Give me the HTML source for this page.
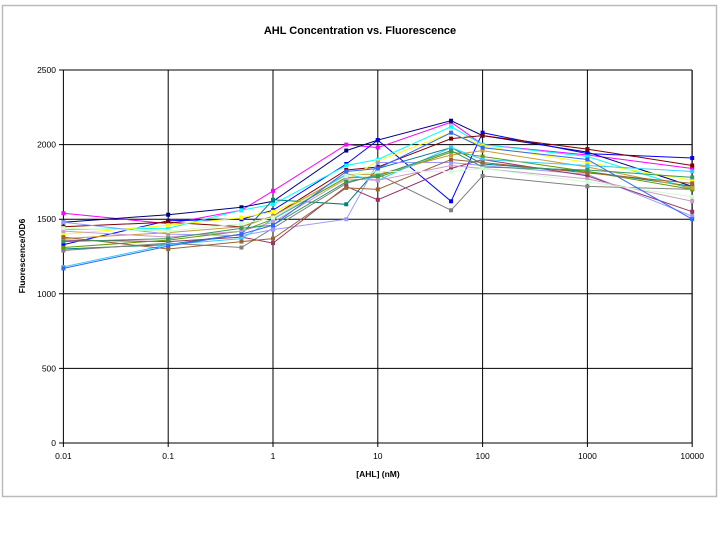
<!DOCTYPE html>
<html><head><meta charset="utf-8"><style>
body{margin:0;background:#fff;width:720px;height:540px;overflow:hidden;font-family:"Liberation Sans",Arial,sans-serif}
</style></head><body>
<svg width="720" height="540" xmlns="http://www.w3.org/2000/svg" font-family="Liberation Sans, Arial, sans-serif">
<rect x="2.5" y="5.5" width="714" height="491" fill="#fff" stroke="#bbb" stroke-width="1.5"/>
<text x="360" y="34" text-anchor="middle" font-size="11" font-weight="bold">AHL Concentration vs. Fluorescence</text>
<g id="grid" stroke="#000" stroke-width="1"></g>
<g id="series"></g>
<g font-size="8.5" fill="#000" id="labels"></g>
<text x="378" y="477" text-anchor="middle" font-size="8.5" font-weight="bold">[AHL] (nM)</text>
<text transform="translate(25,256) rotate(-90)" text-anchor="middle" font-size="8.5" font-weight="bold">Fluorescence/OD6</text>
</svg>
<script>
const ns="http://www.w3.org/2000/svg";
const X=v=>273+104.8*Math.log10(v), Y=v=>443-v*0.1492;
const g=document.getElementById('grid'),L=document.getElementById('labels'),S=document.getElementById('series');
function el(p,t,a){const e=document.createElementNS(ns,t);for(const k in a)e.setAttribute(k,a[k]);p.appendChild(e);return e;}
[0.01,0.1,1,10,100,1000,10000].forEach(v=>{const x=X(v);el(g,'line',{x1:x,x2:x,y1:70,y2:447});const t=el(L,'text',{x:x,y:459,'text-anchor':'middle'});t.textContent=v;});
[0,500,1000,1500,2000,2500].forEach(v=>{const y=Y(v);el(g,'line',{x1:59,x2:692,y1:y,y2:y});const t=el(L,'text',{x:56,y:y+3,'text-anchor':'end'});t.textContent=v;});
el(g,'line',{x1:692,x2:692,y1:70,y2:443});
const xs=[0.01,0.1,0.5,1,5,10,50,100,1000,10000];
const data=[
['#ff00ff',[1540,1470,1560,1690,2000,1980,2150,2000,1930,1840]],
['#000080',[1480,1530,1580,1620,1960,2030,2160,2060,1950,1720]],
['#0000ff',[1330,1490,1500,1560,1870,2030,1620,2080,1940,1910]],
['#00ffff',[1430,1440,1560,1600,1860,1900,2120,2000,1920,1700]],
['#800000',[1450,1480,1450,1520,1830,1850,2040,2060,1970,1860]],
['#ffff00',[1400,1460,1510,1550,1760,1890,2080,1990,1880,1760]],
['#008080',[1300,1330,1400,1630,1600,1840,1980,1870,1820,1720]],
['#808080',[1290,1340,1310,1440,1740,1800,1560,1790,1720,1700]],
['#9999ff',[1480,1400,1390,1430,1500,1880,1880,1860,1800,1520]],
['#993366',[1360,1350,1380,1340,1720,1630,1840,1900,1790,1550]],
['#669900',[1310,1360,1420,1500,1780,1780,1950,1920,1820,1700]],
['#cc9933',[1370,1410,1450,1520,1800,1800,1930,1960,1850,1710]],
['#33ccff',[1180,1330,1370,1500,1800,1760,1980,1900,1860,1820]],
['#996633',[1380,1300,1350,1370,1710,1700,1900,1880,1810,1740]],
['#cc99cc',[1420,1380,1420,1480,1770,1760,1860,1840,1770,1620]],
['#339966',[1350,1370,1440,1460,1750,1790,1960,1850,1830,1780]],
['#ccffcc',[1440,1420,1470,1510,1790,1820,1820,1840,1750,1650]],
['#3366ff',[1170,1320,1400,1460,1820,1840,2080,1980,1900,1500]],
];
data.forEach(([c,d])=>{
 const pts=d.map((v,i)=>X(xs[i]).toFixed(1)+','+Y(v).toFixed(1)).join(' ');
 el(S,'polyline',{points:pts,fill:'none',stroke:c,'stroke-width':1});
 d.forEach((v,i)=>el(S,'rect',{x:X(xs[i])-2,y:Y(v)-2,width:4,height:4,fill:c}));
});
</script>
</body></html>
